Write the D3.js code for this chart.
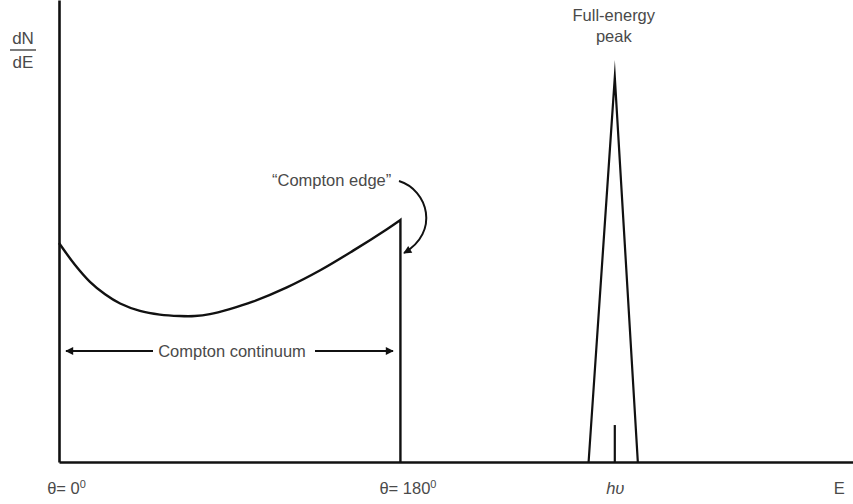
<!DOCTYPE html>
<html>
<head>
<meta charset="utf-8">
<script src="https://cdn.jsdelivr.net/npm/d3@7"></script>
<style>
  html, body { margin: 0; padding: 0; background: #fff; }
  svg { display: block; }
  text { font-family: "Liberation Sans", Arial, Helvetica, sans-serif; fill: #4a4a4a; }
</style>
</head>
<body>
<svg id="chart" width="853" height="504"></svg>
<script>
// Schematic gamma-ray pulse-height spectrum (arbitrary units)

// Compton continuum: energy vs dN/dE, ending at the Compton edge
const continuumE = [0, 0.20, 0.39, 0.58, 0.77, 1.02, 1.27, 1.52, 1.71, 1.90, 2.15, 2.44, 2.87, 3.29, 3.70, 4.13, 4.30];
const continuumN = [47.4, 42.7, 39.0, 36.3, 34.3, 32.7, 31.9, 31.6, 31.6, 32.0, 33.1, 34.7, 37.8, 41.5, 45.7, 50.4, 52.4];

// Compton edge energy and full-energy peak (base-left, apex, base-right)
const comptonEdgeE = 4.30;
const peakE = [6.67, 7.00, 7.29];
const peakN = [0, 83.3, 0];
const peakMarkerN = 8;   // short tick under the peak at hv

// Axis tick labels
const tickValues = [0, 4.30, 7.00, 9.82];
const tickMain = ["θ= 0", "θ= 180", "hυ", "E"];
const tickSup = ["0", "0", "", ""];
const tickItalic = [false, false, true, false];

const svg = d3.select("#chart");
const x = d3.scaleLinear().domain([0, 10]).range([59, 853]);
const y = d3.scaleLinear().domain([0, 100]).range([462, 0]);
const FS = 16.5;

// Arrowhead marker
const defs = svg.append("defs");
defs.append("marker")
  .attr("id", "arrow")
  .attr("viewBox", "0 0 10 10")
  .attr("refX", 9).attr("refY", 5)
  .attr("markerWidth", 11).attr("markerHeight", 8)
  .attr("markerUnits", "userSpaceOnUse")
  .attr("orient", "auto-start-reverse")
  .append("path")
  .attr("d", "M0,0 L10,5 L0,10 Z")
  .attr("fill", "#111");

// Axes
const xAxis = d3.axisBottom(x).tickValues(tickValues).tickSize(0).tickSizeOuter(0).tickPadding(20).tickFormat("");
const gx = svg.append("g").attr("transform", `translate(0,${y(0)})`).call(xAxis);
gx.select(".domain").attr("stroke", "#111").attr("stroke-width", 2.6);

gx.selectAll(".tick text").each(function(d, i) {
  const t = d3.select(this)
    .attr("font-size", FS)
    .attr("fill", "#4a4a4a")
    .attr("y", 32)
    .attr("dy", 0)
    .attr("text-anchor", "middle")
    .attr("dx", tickSup[i] ? 7 : 0)
    .style("font-style", tickItalic[i] ? "italic" : "normal");
  t.text(null);
  t.append("tspan").text(tickMain[i]);
  if (tickSup[i]) {
    t.append("tspan").attr("font-size", 11).attr("dy", -6).text(tickSup[i]);
  }
});

const yAxis = d3.axisLeft(y).tickValues([]).tickSizeOuter(0);
const gy = svg.append("g").attr("transform", `translate(${x(0)},0)`).call(yAxis);
gy.select(".domain").attr("stroke", "#111").attr("stroke-width", 2.6);

// Y-axis label dN/dE
const yl = svg.append("g").attr("transform", "translate(23,0)");
yl.append("text").attr("x", 0).attr("y", 44).attr("text-anchor", "middle").attr("font-size", 17).text("dN");
yl.append("line").attr("x1", -13).attr("x2", 13).attr("y1", 50).attr("y2", 50).attr("stroke", "#444").attr("stroke-width", 1.4);
yl.append("text").attr("x", 0).attr("y", 68).attr("text-anchor", "middle").attr("font-size", 17).text("dE");

// Compton continuum curve then the vertical drop at the edge
const contPts = continuumE.map((e, i) => [x(e), y(continuumN[i])]);
const lineCurve = d3.line().curve(d3.curveCatmullRom.alpha(0.5));
svg.append("path")
  .attr("d", lineCurve(contPts) + `L${x(comptonEdgeE)},${y(0)}`)
  .attr("fill", "none").attr("stroke", "#111").attr("stroke-width", 2.4)
  .attr("stroke-linejoin", "miter");

// Full-energy peak
const lineStraight = d3.line();
svg.append("path")
  .attr("d", lineStraight(peakE.map((e, i) => [x(e), y(peakN[i])])))
  .attr("fill", "none").attr("stroke", "#111").attr("stroke-width", 2.2)
  .attr("stroke-linejoin", "miter").attr("stroke-miterlimit", 40);
svg.append("line")
  .attr("x1", x(peakE[1])).attr("x2", x(peakE[1]))
  .attr("y1", y(0)).attr("y2", y(peakMarkerN))
  .attr("stroke", "#111").attr("stroke-width", 2.2);

// Full-energy peak label
svg.append("text").attr("x", x(peakE[1]) - 1).attr("y", 21).attr("text-anchor", "middle").attr("font-size", FS).text("Full-energy");
svg.append("text").attr("x", x(peakE[1]) - 1).attr("y", 42).attr("text-anchor", "middle").attr("font-size", FS).text("peak");

// Compton continuum span arrows
const spanY = 351;
svg.append("text").attr("x", 232).attr("y", 357).attr("text-anchor", "middle").attr("font-size", FS).text("Compton continuum");
svg.append("line").attr("x1", 153).attr("x2", 66).attr("y1", spanY).attr("y2", spanY)
  .attr("stroke", "#111").attr("stroke-width", 2).attr("marker-end", "url(#arrow)");
svg.append("line").attr("x1", 315).attr("x2", 393).attr("y1", spanY).attr("y2", spanY)
  .attr("stroke", "#111").attr("stroke-width", 2).attr("marker-end", "url(#arrow)");

// Compton edge label with curved pointer
svg.append("text").attr("x", 272).attr("y", 186).attr("font-size", FS).text("“Compton edge”");
svg.append("path")
  .attr("d", "M399,181 C428,190 440,232 404,253")
  .attr("fill", "none").attr("stroke", "#111").attr("stroke-width", 2)
  .attr("marker-end", "url(#arrow)");
</script>
</body>
</html>
